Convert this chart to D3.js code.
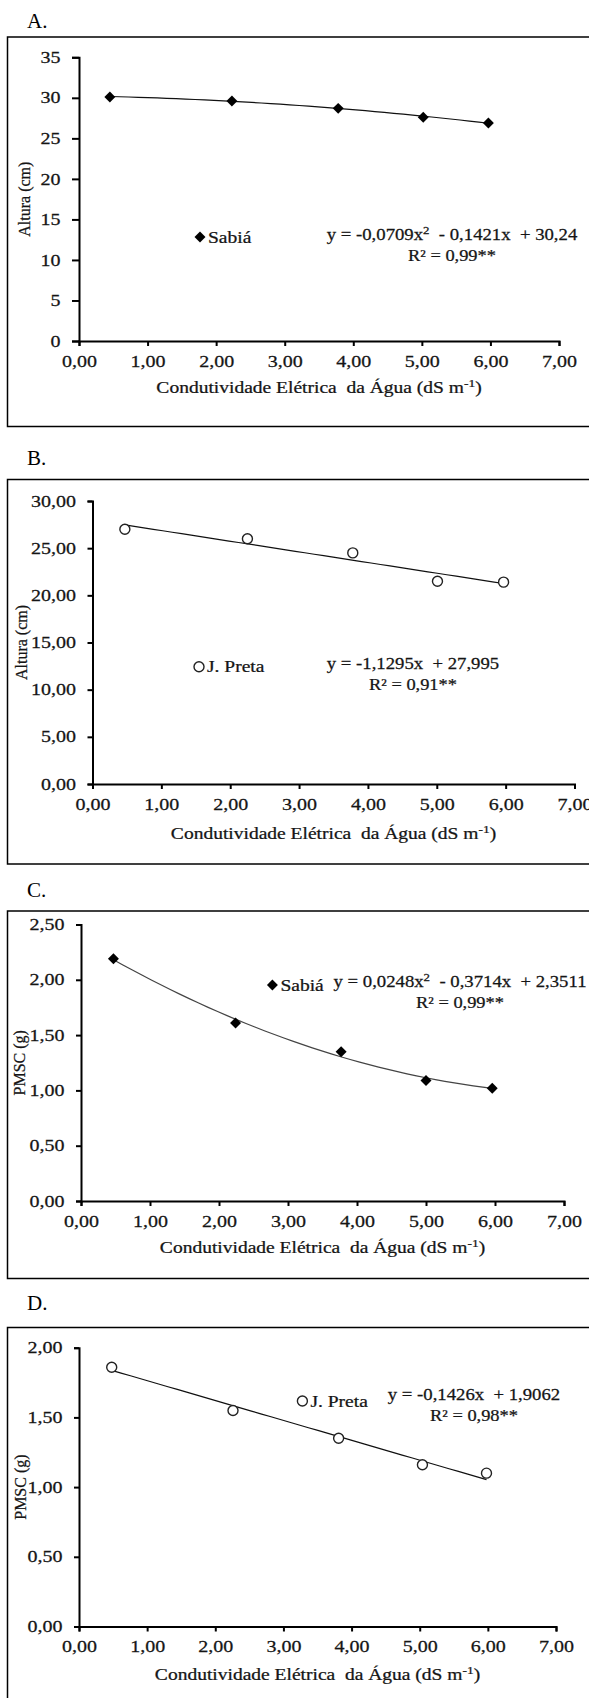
<!DOCTYPE html>
<html>
<head>
<meta charset="utf-8">
<script src="https://cdn.jsdelivr.net/npm/d3@7"></script>
<style>
body{margin:0;background:#fff;}
svg text{fill:#151515;stroke:#151515;stroke-width:0.25px;}
</style>
</head>
<body>
<svg id="fig" width="589" height="1698" font-family="'Liberation Serif', 'Times New Roman', serif"></svg>
<script>
var ce_alt_sabia = [0.45, 2.23, 3.78, 5.02, 5.97];
var alt_sabia = [30.1, 29.6, 28.7, 27.6, 26.9];
var ce_alt_preta = [0.47, 2.25, 3.78, 5.01, 5.97];
var alt_preta = [27.0, 26.0, 24.5, 21.5, 21.4];
var ce_pmsc_sabia = [0.47, 2.24, 3.77, 5.00, 5.96];
var pmsc_sabia = [2.19, 1.61, 1.35, 1.09, 1.02];
var ce_pmsc_preta = [0.48, 2.26, 3.81, 5.04, 5.98];
var pmsc_preta = [1.86, 1.55, 1.35, 1.16, 1.10];

// coeficientes das regressoes [x2, x, const]
var coef_a = [-0.0709, -0.1421, 30.24];
var coef_b = [0, -1.1295, 27.995];
var coef_c = [0.0248, -0.3714, 2.3511];
var coef_d = [0, -0.1426, 1.9062];

var x_ticks = [0, 1, 2, 3, 4, 5, 6, 7];
var y_ticks_a = [0, 5, 10, 15, 20, 25, 30, 35];
var y_ticks_b = [0, 5, 10, 15, 20, 25, 30];
var y_ticks_c = [0, 0.5, 1, 1.5, 2, 2.5];
var y_ticks_d = [0, 0.5, 1, 1.5, 2];

var locale = d3.formatLocale({decimal: ",", thousands: ".", grouping: [3], currency: ["", ""]});
var f2 = locale.format(".2f");
var f0 = locale.format("d");

var FONT = "'Liberation Serif', 'Times New Roman', serif";
var svg = d3.select("#fig");

// o texto do original esta esticado na horizontal
function stretch(sel, sx){
	sel.each(function(){
		var t = d3.select(this);
		var x = +t.attr("x") || 0, y = +t.attr("y") || 0;
		t.attr("x", 0).attr("y", 0)
			.attr("transform", "translate(" + x + "," + y + ") scale(" + sx + ",1)");
	});
}

var panels = [
	{letter: "A.", letter_y: 28, box: [37, 426.5], xr: [79, 559], yr: [341, 57.3],
	 ymax: 35, yticks: y_ticks_a, yfmt: f0, ytitle: "Altura (cm)", ytitle_x: 24,
	 xs: ce_alt_sabia, ys: alt_sabia, coef: coef_a, marker: "diamond", name: "Sabiá",
	 leg: [200, 237], eq_x: 452, eq_y: 240, r2: "0,99**", title_y: 392.7,
	 eq: ["y = -0,0709x", "2", "  - 0,1421x  + 30,24"], ytick: 7, line: "#111"},
	{letter: "B.", letter_y: 464.5, box: [479.5, 864], xr: [92.5, 574.5], yr: [784, 501],
	 ymax: 30, yticks: y_ticks_b, yfmt: f2, ytitle: "Altura (cm)", ytitle_x: 21,
	 xs: ce_alt_preta, ys: alt_preta, coef: coef_b, marker: "circle", name: "J. Preta",
	 leg: [199, 666.7], eq_x: 413, eq_y: 669, r2: "0,91**", title_y: 839.3,
	 eq: ["y = -1,1295x  + 27,995"], ytick: 5, line: "#111"},
	{letter: "C.", letter_y: 897, box: [911, 1278.5], xr: [81, 564], yr: [1201, 924.5],
	 ymax: 2.5, yticks: y_ticks_c, yfmt: f2, ytitle: "PMSC (g)", ytitle_x: 19,
	 xs: ce_pmsc_sabia, ys: pmsc_sabia, coef: coef_c, marker: "diamond", name: "Sabiá",
	 leg: [272.4, 985], eq_x: 460, eq_y: 987, r2: "0,99**", title_y: 1253.3,
	 eq: ["y = 0,0248x", "2", "  - 0,3714x  + 2,3511"], ytick: 5, line: "#444"},
	{letter: "D.", letter_y: 1309.5, box: [1327.5, 1720], xr: [79, 556], yr: [1626.5, 1347.7],
	 ymax: 2, yticks: y_ticks_d, yfmt: f2, ytitle: "PMSC (g)", ytitle_x: 20,
	 xs: ce_pmsc_preta, ys: pmsc_preta, coef: coef_d, marker: "circle", name: "J. Preta",
	 leg: [302.4, 1401], eq_x: 474, eq_y: 1400, r2: "0,98**", title_y: 1680,
	 eq: ["y = -0,1426x  + 1,9062"], ytick: 5, line: "#111"}
];

function draw_marker(g, kind, cx, cy){
	if(kind == "diamond"){
		g.append("path")
			.attr("d", d3.symbol().type(d3.symbolSquare).size(60)())
			.attr("transform", "translate(" + cx + "," + cy + ") rotate(45)")
			.attr("fill", "#000");
	} else {
		g.append("circle")
			.attr("cx", cx).attr("cy", cy).attr("r", 5)
			.attr("fill", "#fff").attr("stroke", "#222").attr("stroke-width", 1.4);
	}
}

function draw_panel(p){
	var g = svg.append("g");

	g.append("text")
		.attr("x", 27).attr("y", p.letter_y)
		.style("font-family", FONT).style("font-size", "21px").style("fill", "#000").style("stroke", "none")
		.text(p.letter);

	g.append("rect")
		.attr("x", 7.5).attr("y", p.box[0])
		.attr("width", 620).attr("height", p.box[1] - p.box[0])
		.attr("fill", "none").attr("stroke", "#000").attr("stroke-width", 1.5);

	var x = d3.scaleLinear().domain([0, 7]).range(p.xr);
	var y = d3.scaleLinear().domain([0, p.ymax]).range(p.yr);

	var xa = g.append("g")
		.attr("transform", "translate(0," + p.yr[0] + ")")
		.call(d3.axisBottom(x).tickValues(x_ticks).tickFormat(f2)
			.tickSize(5).tickSizeOuter(5).tickPadding(9.5));
	var ya = g.append("g")
		.attr("transform", "translate(" + p.xr[0] + ",0)")
		.call(d3.axisLeft(y).tickValues(p.yticks).tickFormat(p.yfmt)
			.tickSize(p.ytick).tickSizeOuter(p.ytick).tickPadding(11.5));

	[xa, ya].forEach(function(a){
		a.attr("font-family", FONT).attr("font-size", 16);
		a.selectAll("path, line").attr("stroke", "#000").attr("stroke-width", 2);
		a.selectAll("text").style("font-family", FONT).style("font-size", "16px").attr("fill", "#1a1a1a");
		stretch(a.selectAll("text"), 1.25);
	});

	// titulo eixo x
	var tx = g.append("text")
		.attr("x", (p.xr[0] + p.xr[1]) / 2).attr("y", p.title_y)
		.attr("text-anchor", "middle")
		.style("font-family", FONT).style("font-size", "16px").style("white-space", "pre");
	tx.append("tspan").text("Condutividade Elétrica  da Água (dS m");
	tx.append("tspan").attr("dy", -6).style("font-size", "11px").text("-1");
	tx.append("tspan").attr("dy", 6).text(")");
	stretch(tx, 1.22);

	// titulo eixo y
	g.append("text")
		.attr("transform", "translate(" + p.ytitle_x + "," + ((p.yr[0] + p.yr[1]) / 2) + ") rotate(-90)")
		.attr("text-anchor", "middle").attr("dy", "0.35em")
		.style("font-family", FONT).style("font-size", "16px")
		.text(p.ytitle);

	// linha de tendencia
	var c = p.coef;
	var x0 = p.xs[0], x1 = p.xs[p.xs.length - 1];
	var fit = d3.range(0, 41).map(function(i){
		var xv = x0 + (x1 - x0) * i / 40;
		return [xv, c[0] * xv * xv + c[1] * xv + c[2]];
	});
	g.append("path")
		.datum(fit)
		.attr("d", d3.line().x(function(d){ return x(d[0]); }).y(function(d){ return y(d[1]); }))
		.attr("fill", "none").attr("stroke", p.line).attr("stroke-width", 1.2);

	// pontos
	p.xs.forEach(function(xv, i){
		draw_marker(g, p.marker, x(xv), y(p.ys[i]));
	});

	// legenda
	draw_marker(g, p.marker, p.leg[0], p.leg[1]);
	var lt = g.append("text")
		.attr("x", p.leg[0] + 8).attr("y", p.leg[1] + 5.5)
		.style("font-family", FONT).style("font-size", "16px").text(p.name);
	stretch(lt, 1.22);

	// equacao
	var et = g.append("text")
		.attr("x", p.eq_x).attr("y", p.eq_y)
		.attr("text-anchor", "middle")
		.style("font-family", FONT).style("font-size", "16px").style("white-space", "pre");
	et.append("tspan").text(p.eq[0]);
	if(p.eq.length > 1){
		et.append("tspan").attr("dy", -6).style("font-size", "11px").text(p.eq[1]);
		et.append("tspan").attr("dy", 6).text(p.eq[2]);
	}
	stretch(et, 1.17);
	var rt = g.append("text")
		.attr("x", p.eq_x).attr("y", p.eq_y + 21)
		.attr("text-anchor", "middle")
		.style("font-family", FONT).style("font-size", "16px")
		.text("R² = " + p.r2);
	stretch(rt, 1.15);
}

panels.forEach(draw_panel);
</script>
</body>
</html>
